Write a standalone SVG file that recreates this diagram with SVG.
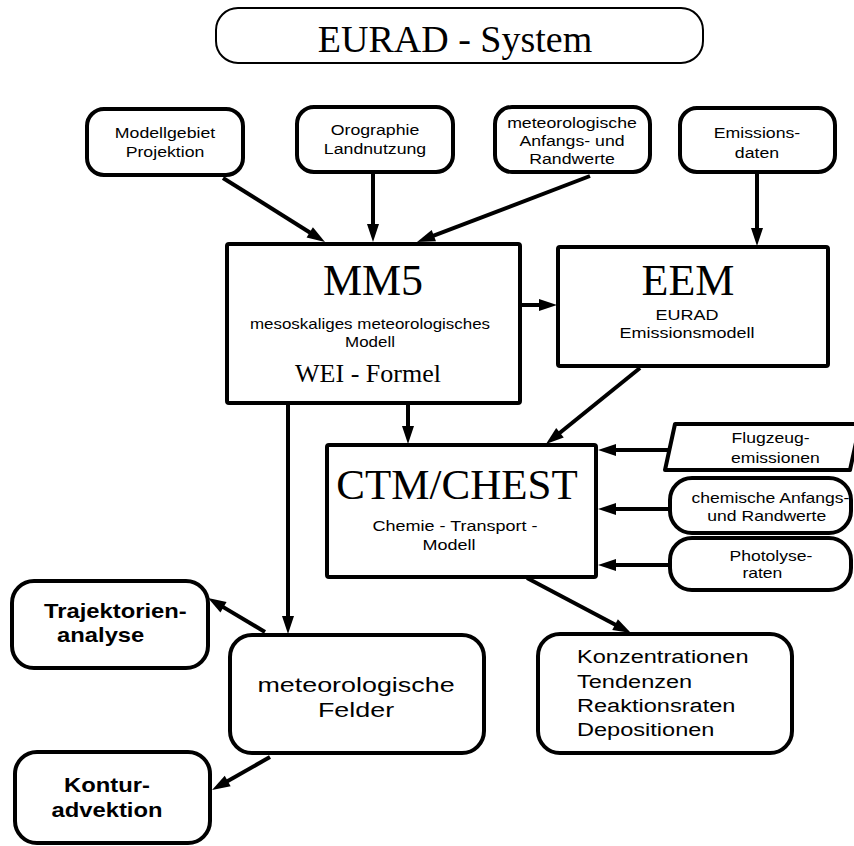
<svg xmlns="http://www.w3.org/2000/svg" width="854" height="846" viewBox="0 0 854 846">
<style>
.box{fill:#fff;stroke:#000;stroke-width:4;stroke-linejoin:round}
.sans{font-family:"Liberation Sans",Arial,sans-serif;fill:#000;text-anchor:middle}
.serif{font-family:"Liberation Serif","Times New Roman",serif;fill:#000;text-anchor:middle}
.bold{font-weight:bold}
.c line{stroke:#000;stroke-width:4;marker-end:url(#ah)}
</style>
<defs>
<marker id="ah" markerUnits="userSpaceOnUse" markerWidth="18" markerHeight="12" refX="10" refY="6" orient="auto" overflow="visible">
<path d="M0,0 L18,6 L0,12 z" fill="#000"/>
</marker>
</defs>
<rect width="854" height="846" fill="#fff"/>

<g id="title">
<rect x="216" y="8" width="487" height="55" rx="22" fill="#fff" stroke="#000" stroke-width="2"/>
<text class="serif" x="455" y="52" font-size="38">EURAD - System</text>
</g>

<g id="modellgebiet">
<rect class="box" x="87" y="109" width="156" height="66" rx="17"/>
<g transform="translate(165 0) scale(1.18 1)"><text class="sans" font-size="15"><tspan x="0" y="138">Modellgebiet</tspan><tspan x="0" y="157">Projektion</tspan></text></g>
</g>

<g id="orographie">
<rect class="box" x="297" y="107" width="156" height="65" rx="17"/>
<g transform="translate(375 0) scale(1.18 1)"><text class="sans" font-size="15"><tspan x="0" y="135">Orographie</tspan><tspan x="0" y="154">Landnutzung</tspan></text></g>
</g>

<g id="meteo-anfang">
<rect class="box" x="495" y="107" width="155" height="65" rx="17"/>
<g transform="translate(572 0) scale(1.18 1)"><text class="sans" font-size="15"><tspan x="0" y="128">meteorologische</tspan><tspan x="0" y="146">Anfangs- und</tspan><tspan x="0" y="164">Randwerte</tspan></text></g>
</g>

<g id="emissionsdaten">
<rect class="box" x="680" y="108" width="155" height="64" rx="17"/>
<g transform="translate(757 0) scale(1.18 1)"><text class="sans" font-size="15"><tspan x="0" y="138">Emissions-</tspan><tspan x="0" y="158">daten</tspan></text></g>
</g>

<g id="mm5">
<rect class="box" x="227" y="244" width="293" height="159" rx="2"/>
<text class="serif" x="373" y="295" font-size="44">MM5</text>
<g transform="translate(370 0) scale(1.13 1)"><text class="sans" font-size="15"><tspan x="0" y="329">mesoskaliges meteorologisches</tspan><tspan x="0" y="347">Modell</tspan></text></g>
<text class="serif" x="368" y="382" font-size="26">WEI - Formel</text>
</g>

<g id="eem">
<rect class="box" x="558" y="247" width="270" height="119" rx="2"/>
<text class="serif" x="688" y="295" font-size="44">EEM</text>
<g transform="translate(687 0) scale(1.2 1)"><text class="sans" font-size="15"><tspan x="0" y="320">EURAD</tspan><tspan x="0" y="338">Emissionsmodell</tspan></text></g>
</g>

<g id="ctm">
<rect class="box" x="327" y="445" width="269" height="132" rx="2"/>
<text class="serif" x="457" y="499" font-size="43">CTM/CHEST</text>
<g transform="translate(455 0) scale(1.2 1)"><text class="sans" font-size="15"><tspan x="0" y="531">Chemie - Transport -</tspan><tspan x="-5" y="550">Modell</tspan></text></g>
</g>

<g id="flugzeug">
<polygon class="box" points="675,424 860,424 850,470 665,470"/>
<g transform="translate(773 0) scale(1.21 1)"><text class="sans" font-size="14.5"><tspan x="-2" y="443">Flugzeug-</tspan><tspan x="2" y="463">emissionen</tspan></text></g>
</g>

<g id="chem-anfang">
<rect class="box" x="670" y="478" width="181" height="55" rx="22"/>
<g transform="translate(768 0) scale(1.21 1)"><text class="sans" font-size="14.5"><tspan x="2" y="503">chemische Anfangs-</tspan><tspan x="-1" y="521">und Randwerte</tspan></text></g>
</g>

<g id="photolyse">
<rect class="box" x="670" y="538" width="181" height="52" rx="22"/>
<g transform="translate(766 0) scale(1.21 1)"><text class="sans" font-size="14.5"><tspan x="4" y="561">Photolyse-</tspan><tspan x="-3" y="578">raten</tspan></text></g>
</g>

<g id="trajektorien">
<rect class="box" x="12" y="581" width="196" height="87" rx="22"/>
<g transform="translate(108 0) scale(1.22 1)"><text class="sans bold" font-size="19.5"><tspan x="6" y="618">Trajektorien-</tspan><tspan x="-6" y="642">analyse</tspan></text></g>
</g>

<g id="felder">
<rect class="box" x="230" y="635" width="254" height="118" rx="22"/>
<g transform="translate(356 0) scale(1.28 1)"><text class="sans" font-size="21"><tspan x="0" y="692">meteorologische</tspan><tspan x="0" y="717">Felder</tspan></text></g>
</g>

<g id="konzentrationen">
<rect class="box" x="538" y="634" width="254" height="119" rx="22"/>
<g transform="translate(577 0) scale(1.24 1)"><text class="sans" font-size="19" style="text-anchor:start"><tspan x="0" y="663">Konzentrationen</tspan><tspan x="0" y="688">Tendenzen</tspan><tspan x="0" y="712">Reaktionsraten</tspan><tspan x="0" y="736">Depositionen</tspan></text></g>
</g>

<g id="kontur">
<rect class="box" x="15" y="752" width="195" height="91" rx="22"/>
<g transform="translate(107 0) scale(1.22 1)"><text class="sans bold" font-size="19.5"><tspan x="0" y="792">Kontur-</tspan><tspan x="0" y="817">advektion</tspan></text></g>
</g>

<g id="connectors" class="c">
<line x1="223" y1="178" x2="318.2" y2="237.7"/>
<line x1="373" y1="172" x2="373" y2="234"/>
<line x1="590" y1="176" x2="424.5" y2="239.2"/>
<line x1="757" y1="172" x2="757" y2="238"/>
<line x1="520" y1="305" x2="549" y2="305"/>
<line x1="408" y1="403" x2="408" y2="436"/>
<line x1="288" y1="403" x2="288" y2="626"/>
<line x1="640" y1="368" x2="552.2" y2="439"/>
<line x1="668" y1="450" x2="606" y2="450"/>
<line x1="670" y1="509" x2="606" y2="509"/>
<line x1="670" y1="565" x2="606" y2="565"/>
<line x1="527" y1="578" x2="623.9" y2="629.3"/>
<line x1="265" y1="632" x2="214.9" y2="602.1"/>
<line x1="270" y1="757" x2="219" y2="786"/>
</g>
</svg>
